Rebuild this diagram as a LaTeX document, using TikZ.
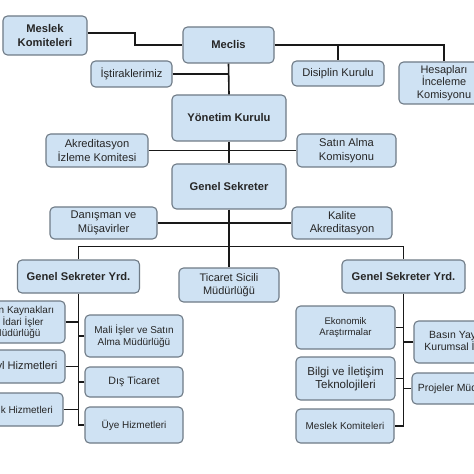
\documentclass[tikz,border=0pt]{standalone}
\usepackage{fontspec}
\setmainfont{Liberation Sans}
\definecolor{boxfill}{HTML}{CFE2F3}
\definecolor{boxline}{HTML}{6F7B86}
\tikzset{
  box/.style={draw=boxline, fill=boxfill, rounded corners=4.5bp, line width=1.1bp,
    align=center, inner sep=0pt, text=black!85},
  fa/.style={font=\fontsize{11.2}{13.4}\selectfont},
  fb/.style={font=\fontsize{11.2}{14}\selectfont\bfseries},
  fs/.style={font=\fontsize{10}{11.6}\selectfont},
  conn/.style={draw=black!90, line width=1.6bp},
}
\begin{document}
\begin{tikzpicture}[x=1bp,y=-1bp]
\useasboundingbox (0,0) rectangle (474,474);
\fill[white] (0,0) rectangle (474,474);
\clip (0,0) rectangle (474,474);
% nodes
\node[box,fb,minimum width=84bp,minimum height=39bp] (mk) at (45,35.5) {Meslek\\Komiteleri};
\node[box,fb,minimum width=91bp,minimum height=36bp] (meclis) at (228.5,45) {Meclis};
\node[box,fa,minimum width=81bp,minimum height=26bp] (istirak) at (131.5,74) {İştiraklerimiz};
\node[box,fa,minimum width=92bp,minimum height=25bp] (disiplin) at (338,73.5) {Disiplin Kurulu};
\node[box,font=\fontsize{11}{12.3}\selectfont,minimum width=90bp,minimum height=42bp] (hesap) at (444,83) {Hesapları\\İnceleme\\Komisyonu};
\node[box,fb,minimum width=114bp,minimum height=46bp] (yonetim) at (229,118) {Yönetim Kurulu};
\node[box,fa,minimum width=102bp,minimum height=33bp] (akred) at (97,150.5) {Akreditasyon\\İzleme Komitesi};
\node[box,fa,minimum width=99bp,minimum height=33bp] (satin) at (346.5,150.5) {Satın Alma\\Komisyonu};
\node[box,fb,minimum width=114bp,minimum height=45bp] (genel) at (229,186.5) {Genel Sekreter};
\node[box,fa,minimum width=107bp,minimum height=32bp] (danis) at (103.5,223) {Danışman ve\\Müşavirler};
\node[box,fa,minimum width=100bp,minimum height=32bp] (kalite) at (342,223) {Kalite\\Akreditasyon};
\node[box,fb,minimum width=122bp,minimum height=33bp] (yrdL) at (78.5,276.5) {Genel Sekreter Yrd.};
\node[box,fa,font=\fontsize{11}{12.7}\selectfont,minimum width=100bp,minimum height=34bp] (ticaret) at (229,285) {Ticaret Sicili\\Müdürlüğü};
\node[box,fb,minimum width=123bp,minimum height=33bp] (yrdR) at (403.5,276.5) {Genel Sekreter Yrd.};
% left group, outer column
\node[box,minimum width=100bp,minimum height=42bp] (ik) at (15,322) {};
\node[fs,align=center,inner sep=0pt,text=black!85] (iktext) at (17,322) {İnsan Kaynakları\\\hspace*{12bp}İdari İşler\\Müdürlüğü};
\node[box,minimum width=100bp,minimum height=33bp] (yl) at (15,366.5) {};
\node[fa,anchor=east,inner sep=0pt,text=black!85] (yltext) at (57.5,367) {yl Hizmetleri};
\node[box,minimum width=100bp,minimum height=33bp] (kh) at (13,409.5) {};
\node[fs,anchor=east,inner sep=0pt,text=black!85] (khtext) at (53,409.5) {k Hizmetleri};
% left group, inner column
\node[box,fs,minimum width=98bp,minimum height=42bp] (mali) at (134,336) {Mali İşler ve Satın\\Alma Müdürlüğü};
\node[box,font=\fontsize{10.7}{12}\selectfont,minimum width=98bp,minimum height=30bp] (dis) at (134,382) {Dış Ticaret};
\node[box,fs,minimum width=98bp,minimum height=36bp] (uye) at (134,425) {Üye Hizmetleri};
% right group, inner column
\node[box,font=\fontsize{9.6}{11.7}\selectfont,minimum width=99bp,minimum height=43bp] (eko) at (345.5,327.5) {Ekonomik\\Araştırmalar};
\node[box,font=\fontsize{11.6}{13.3}\selectfont,minimum width=99bp,minimum height=43bp] (bilgi) at (345.5,378.5) {Bilgi ve İletişim\\Teknolojileri};
\node[box,fs,minimum width=98bp,minimum height=34bp] (meslekR) at (345,426) {Meslek Komiteleri};
% right group, outer column
\node[box,font=\fontsize{10.5}{12.3}\selectfont,minimum width=100bp,minimum height=42bp] (basin) at (464,342) {Basın Yayın ve\\Kurumsal İlişkiler};
\node[box,font=\fontsize{10.5}{12.3}\selectfont,minimum width=100bp,minimum height=31bp] (projeler) at (462,388.5) {Projeler Müdürlüğü};
% connectors
\begin{scope}[conn]
\draw ([yshift=2.5bp]mk.east) -- ([yshift=2.5bp]mk.east -| 135,0) |- (meclis.west);
\draw (meclis.east) -| (hesap.north);
\draw (meclis.east -| disiplin.north) -- (disiplin.north);
\draw (meclis.south) -- (yonetim.north);
\draw (istirak.east) -- (istirak.east -| meclis.south);
\draw (yonetim.south) -- (genel.north);
\draw (akred.east) -- (satin.west);
\draw (genel.south) -- (ticaret.north);
\draw (danis.east) -- (kalite.west);
\draw (yrdL.north) -- ++(0,-13) -| (yrdR.north);
\draw (yrdL.south) |- (uye.west);
\draw (ik.east) -- (ik.east -| yrdL.south);
\draw (yl.east) -- (yl.east -| yrdL.south);
\draw (kh.east) -- (kh.east -| yrdL.south);
\draw (mali.west) -- (mali.west -| yrdL.south);
\draw (dis.west) -- (dis.west -| yrdL.south);
\draw (yrdR.south) |- (meslekR.east);
\draw (eko.east) -- (eko.east -| yrdR.south);
\draw (bilgi.east) -- (bilgi.east -| yrdR.south);
\draw (basin.west) -- (basin.west -| yrdR.south);
\draw (projeler.west) -- (projeler.west -| yrdR.south);
\end{scope}
\end{tikzpicture}
\end{document}
